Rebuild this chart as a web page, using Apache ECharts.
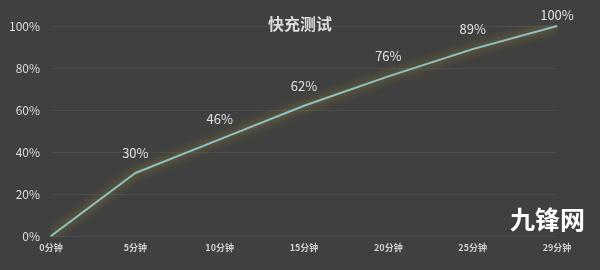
<!DOCTYPE html>
<html>
<head>
<meta charset="utf-8">
<script src="https://cdn.jsdelivr.net/npm/echarts@6/dist/echarts.min.js"></script>
<style>
html,body{margin:0;padding:0;background:#404040;}
#c{width:600px;height:270px;}
</style>
</head>
<body>
<div id="c"></div>
<script>
var categories = ['0分钟','5分钟','10分钟','15分钟','20分钟','25分钟','29分钟'];
var values = [0, 30, 46, 62, 76, 89, 100];
var yTicks = [0, 20, 40, 60, 80, 100];
var titleText = '快充测试';
var watermark = '九锋网';

var lastIdx = values.length - 1;
var seriesData = values.map(function (v, i) {
  return i === lastIdx ? {value: v, label: {distance: 4}} : v;
});

var chart = echarts.init(document.getElementById('c'));
chart.setOption({
  backgroundColor: '#404040',
  animation: false,
  title: {
    text: titleText,
    left: 'center',
    top: 11,
    textStyle: {color: '#dcdcdc', fontSize: 16, fontWeight: 'bold', fontFamily: 'Noto Sans CJK SC'}
  },
  grid: {left: 51, right: 43, top: 26, bottom: 34},
  xAxis: {
    type: 'category',
    data: categories,
    boundaryGap: false,
    axisLine: {show: false},
    axisTick: {show: false},
    axisLabel: {color: '#cfcfcf', fontSize: 9, fontWeight: 'bold', margin: 7, fontFamily: 'Noto Sans CJK SC'},
    splitLine: {show: false}
  },
  yAxis: {
    type: 'value',
    min: yTicks[0],
    max: yTicks[yTicks.length - 1],
    interval: yTicks[1] - yTicks[0],
    axisLine: {show: false},
    axisTick: {show: false},
    axisLabel: {color: '#dcdcdc', fontSize: 12, margin: 11, formatter: '{value}%', fontFamily: 'Noto Sans CJK SC'},
    splitLine: {lineStyle: {color: '#4c4c4c', width: 1}}
  },
  series: [{
    type: 'line',
    data: seriesData,
    symbol: 'circle',
    symbolSize: 1,
    itemStyle: {color: '#8ec2c8'},
    lineStyle: {
      color: '#8ec2c8',
      width: 2,
      shadowColor: 'rgba(190,170,40,1)',
      shadowBlur: 10
    },
    label: {
      show: true,
      position: 'top',
      distance: 13,
      color: '#e0e0e0',
      fontSize: 13,
      fontFamily: 'Noto Sans CJK SC',
      formatter: function (p) { return p.value === 0 ? '' : p.value + '%'; }
    }
  }],
  graphic: [{
    type: 'text',
    right: 15,
    top: 207,
    style: {
      text: watermark,
      fill: '#ffffff',
      font: 'bold 25px "Noto Sans CJK SC"',
      shadowColor: 'rgba(0,0,0,0.85)',
      shadowBlur: 3,
      shadowOffsetX: 2,
      shadowOffsetY: 2
    }
  }]
});
</script>
</body>
</html>
